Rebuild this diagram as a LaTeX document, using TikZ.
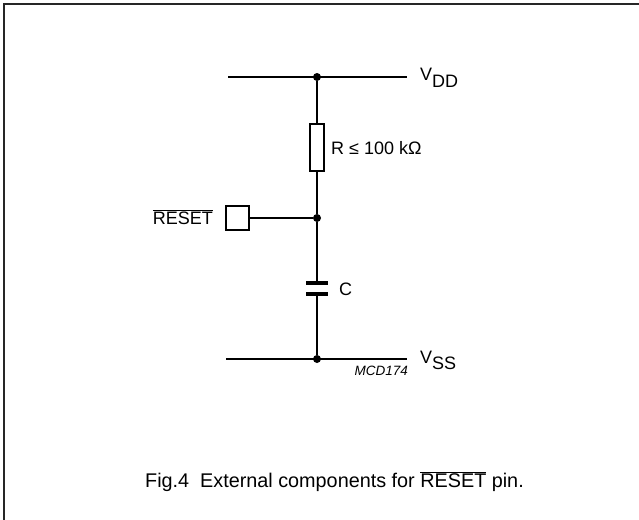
\documentclass[tikz,border=0pt]{standalone}
\usepackage{fontspec}
\setmainfont{Liberation Sans}
\newcommand\ovlt[1]{\ensuremath{\overline{\mbox{#1}}}}
\begin{document}
\begin{tikzpicture}[x=1pt,y=-1pt,
  wire/.style={line width=1.5pt},
  lbl/.style={inner sep=0pt,font=\fontsize{18}{20}\selectfont},
  dotj/.style={circle,fill,inner sep=0pt,minimum size=8pt},
  resbox/.style={draw,line width=1.4pt,minimum width=14pt,minimum height=47pt,inner sep=0pt},
  pinbox/.style={draw,line width=1.2pt,minimum width=23pt,minimum height=24pt,inner sep=0pt}]
\useasboundingbox (0,0) rectangle (639,519);
\draw[line width=1.8pt,black!85] (4,4) rectangle (700,600);
% VDD rail
\coordinate (vddl) at (228,77);
\coordinate (vddr) at (407,77);
\node[dotj] (jt) at (317,77) {};
\draw[wire] (vddl) -- (vddr);
\node[lbl,anchor=base west] (vdd) at (420,81) {V\raisebox{-6pt}{DD}};
% resistor
\node[resbox] (res) at (317,147.5) {};
\node[lbl,anchor=base west] (rl) at (331,154) {R ≤ 100 kΩ};
% junction
\node[dotj] (jm) at (317,218) {};
\node[pinbox] (pin) at (237.5,218) {};
\node[lbl,anchor=base east] (rst) at (213,224.5) {\ovlt{RESET}};
% capacitor
\coordinate (ct) at (317,283);
\coordinate (cb) at (317,294);
\draw[line width=3.2pt] (306,283) -- (328,283);
\draw[line width=3.2pt] (306,294) -- (328,294);
\node[lbl,anchor=base west] (cl) at (339,295.5) {C};
% VSS rail
\coordinate (vssl) at (226,359);
\coordinate (vssr) at (407,359);
\node[dotj] (jb) at (317,359) {};
\draw[wire] (vssl) -- (vssr);
\node[lbl,anchor=base west] (vss) at (420,363) {V\raisebox{-6pt}{SS}};
\node[inner sep=0pt,anchor=base east,font=\fontsize{13.5}{15}\itshape] (code) at (408,375) {MCD174};
% wires
\draw[wire] (jt) -- (res.north);
\draw[wire] (res.south) -- (jm);
\draw[wire] (jm) -- (pin.east);
\draw[wire] (jm) -- (ct);
\draw[wire] (cb) -- (jb);
% caption
\node[inner sep=0pt,anchor=base west,font=\fontsize{19.8}{22}\selectfont] (cap) at (145,487) {Fig.4\hspace{0.278em}\hspace{0.278em}External components for \ovlt{RESET} pin.};
\end{tikzpicture}
\end{document}
